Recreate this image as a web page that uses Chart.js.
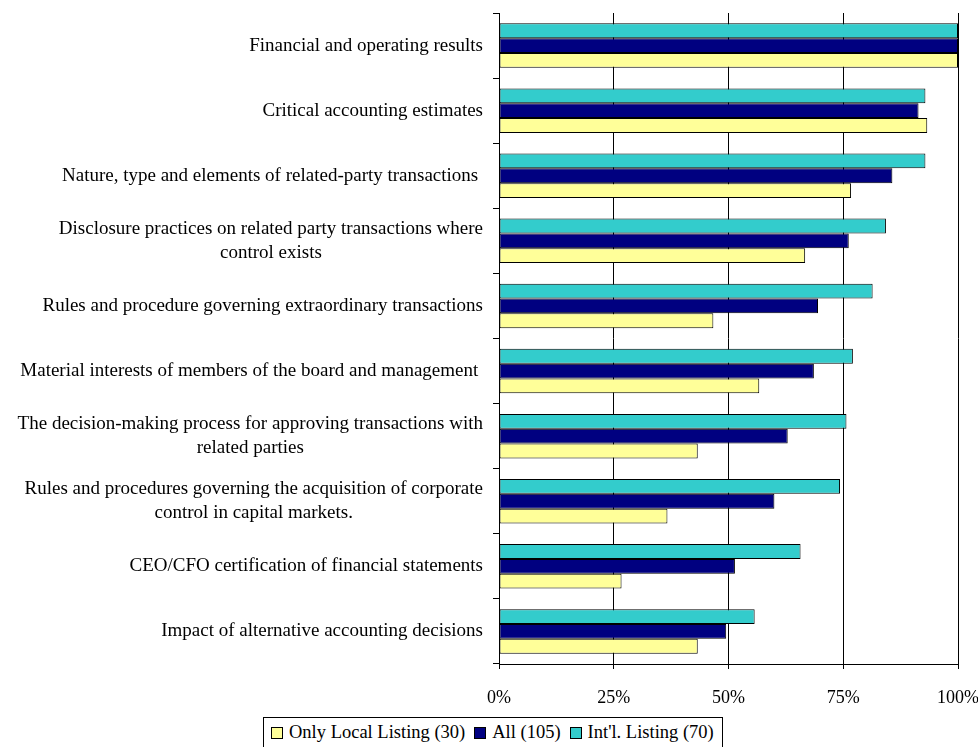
<!DOCTYPE html>
<html>
<head>
<meta charset="utf-8">
<script src="https://cdn.jsdelivr.net/npm/chart.js@4/dist/chart.umd.min.js"></script>
<style>
  html, body { margin: 0; padding: 0; background: #fff; }
  #wrap { position: relative; width: 978px; height: 747px; overflow: hidden; }
  #legend {
    position: absolute; left: 263px; top: 717px; height: 34px;
    border: 1px solid #000; background: #fff; box-sizing: border-box;
    padding: 0 8px 0 7px; display: flex; align-items: flex-start;
    font: 18.5px "Liberation Serif", "Times New Roman", serif; color: #000;
    white-space: nowrap;
  }
  #legend .item { display: flex; align-items: center; margin-right: 9px; line-height: 21px; padding-top: 4px; }
  #legend .item:last-child { margin-right: 0; }
  #legend .sw { width: 12px; height: 12px; box-sizing: border-box; border: 1px solid #000; margin-right: 6px; }
</style>
</head>
<body>
<div id="wrap">
  <canvas id="chart" width="978" height="747"></canvas>
  <div id="legend"></div>
</div>
<script>
  // Categories (multi-line labels as arrays)
  const categories = [
    ["Financial and operating results"],
    ["Critical accounting estimates"],
    ["Nature, type and elements of related-party transactions "],
    ["Disclosure practices on related party transactions where", "control exists"],
    ["Rules and procedure governing extraordinary transactions"],
    ["Material interests of members of the board and management "],
    ["The decision-making process for approving transactions with", "related parties"],
    ["Rules and procedures governing the acquisition of corporate", "control in capital markets."],
    ["CEO/CFO certification of financial statements"],
    ["Impact of alternative accounting decisions"],
  ];

  // Series values (%)
  const intlListing = [100, 92.9, 92.9, 84.3, 81.4, 77.1, 75.7, 74.3, 65.7, 55.7];
  const allCompanies = [100, 91.4, 85.7, 76.2, 69.5, 68.6, 62.9, 60.0, 51.4, 49.5];
  const localListing = [100, 93.3, 76.7, 66.7, 46.7, 56.7, 43.3, 36.7, 26.7, 43.3];

  const xTicks = [0, 25, 50, 75, 100];

  const seriesNames = ["Int'l. Listing (70)", "All (105)", "Only Local Listing (30)"];
  const seriesColors = ["#33CCCC", "#000080", "#FFFF99"];
  const seriesData = [intlListing, allCompanies, localListing];

  // Category labels: right-aligned block, lines centered within it
  const categoryLabels = {
    id: "categoryLabels",
    afterDraw(chart) {
      const { ctx, chartArea } = chart;
      const yScale = chart.scales.y;
      const lineH = 24;
      const right = chartArea.left - 16;
      ctx.save();
      ctx.font = '19px "Liberation Serif", "Times New Roman", serif';
      ctx.fillStyle = "#000";
      ctx.textAlign = "center";
      ctx.textBaseline = "middle";
      categories.forEach((lines, i) => {
        const cy = yScale.getPixelForValue(i);
        const blockW = Math.max(...lines.map((l) => ctx.measureText(l).width));
        const cx = right - blockW / 2;
        lines.forEach((line, j) => {
          ctx.fillText(line, cx, cy + (j - (lines.length - 1) / 2) * lineH);
        });
      });
      ctx.restore();
    },
  };

  new Chart(document.getElementById("chart"), {
    type: "bar",
    plugins: [categoryLabels],
    data: {
      labels: categories.map((c) => c.join(" ")),
      datasets: seriesData.map((d, i) => ({
        label: seriesNames[i],
        data: d,
        backgroundColor: seriesColors[i],
        borderColor: "#000",
        borderWidth: 1,
        borderSkipped: false,
        categoryPercentage: 0.683,
        barPercentage: 1,
      })),
    },
    options: {
      indexAxis: "y",
      responsive: false,
      animation: false,
      layout: { padding: { top: 13, right: 0, bottom: 0, left: 0 } },
      plugins: {
        legend: { display: false },
        tooltip: { enabled: false },
      },
      scales: {
        x: {
          min: 0,
          max: 100,
          afterBuildTicks: (scale) => {
            scale.ticks = xTicks.map((v) => ({ value: v }));
          },
          afterFit: (scale) => {
            scale.height = 83;
            scale.paddingRight = 20;
            scale.paddingLeft = 0;
          },
          grid: { color: "#000", lineWidth: 1, tickLength: 5 },
          border: { color: "#000", width: 1 },
          ticks: {
            padding: 18,
            color: "#000",
            font: { family: '"Liberation Serif", "Times New Roman", serif', size: 18 },
            callback: (v) => v + "%",
          },
        },
        y: {
          afterFit: (scale) => {
            scale.width = 499;
          },
          grid: {
            drawOnChartArea: false,
            drawTicks: true,
            tickLength: 6,
            color: "#000",
            offset: true,
          },
          border: { color: "#000", width: 1 },
          ticks: {
            autoSkip: false,
            color: "rgba(0,0,0,0)",
            font: { size: 12 },
          },
        },
      },
    },
  });

  // Legend (Excel order: reversed)
  const legend = document.getElementById("legend");
  [2, 1, 0].forEach((i) => {
    const item = document.createElement("div");
    item.className = "item";
    const sw = document.createElement("span");
    sw.className = "sw";
    sw.style.background = seriesColors[i];
    const txt = document.createElement("span");
    txt.textContent = seriesNames[i];
    item.appendChild(sw);
    item.appendChild(txt);
    legend.appendChild(item);
  });
</script>
</body>
</html>
